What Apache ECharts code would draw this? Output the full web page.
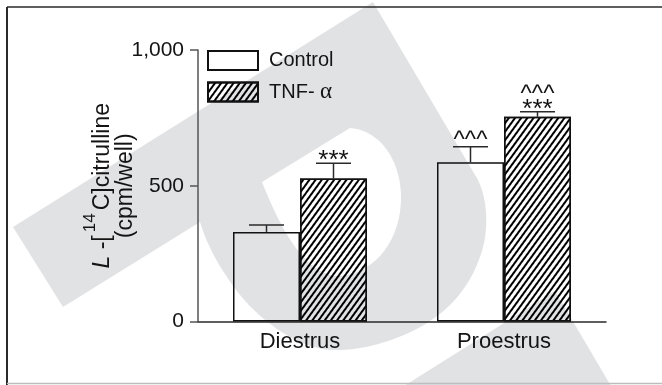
<!DOCTYPE html>
<html>
<head>
<meta charset="utf-8">
<script src="https://cdn.jsdelivr.net/npm/echarts@6/dist/echarts.min.js"></script>
<style>
  html, body { margin: 0; padding: 0; background: #fff; }
  #chart { width: 662px; height: 385px; }
</style>
</head>
<body>
<div id="chart"></div>
<script>
// Citrulline production per well, by cycle stage and treatment
const categories = ['Diestrus', 'Proestrus'];
const controlValues = [330, 587];
const controlErrors = [25, 57];
const tnfValues = [527, 754];
const tnfErrors = [56, 19];
// significance marks drawn above the error bars
const controlCarets = ['', '^^^'];
const tnfStars = ['***', '***'];
const tnfCarets = ['', '^^^'];
const yTicks = [0, 500, 1000];
const seriesNames = ['Control', 'TNF- α'];

const FONT = '"Liberation Sans", Arial, Helvetica, sans-serif';
const INK = '#141414';
const BAR_W = 67;
const CAP_HALF = 17.5;

const chart = echarts.init(document.getElementById('chart'));

// thin "/" hatching for the TNF bars
const hatch = {
  symbol: 'rect',
  symbolSize: 1,
  color: '#000',
  dashArrayX: [1, 0],
  dashArrayY: [1.1, 3],
  rotation: -Math.PI * 54 / 180
};

// turns a start point plus line / cubic segments into polygon points
function outline(start, segments) {
  const pts = [start.slice()];
  let p = start.slice();
  segments.forEach(seg => {
    if (seg.length === 2) {
      p = seg.slice();
      pts.push(p);
    } else {
      const [x1, y1, x2, y2, x3, y3] = seg;
      for (let k = 1; k <= 16; k++) {
        const t = k / 16, u = 1 - t;
        pts.push([
          u * u * u * p[0] + 3 * u * u * t * x1 + 3 * u * t * t * x2 + t * t * t * x3,
          u * u * u * p[1] + 3 * u * u * t * y1 + 3 * u * t * t * y2 + t * t * t * y3
        ]);
      }
      p = [x3, y3];
    }
  });
  return pts;
}

const logoOuter = outline([13, 227], [
  [373, 2], [478, 180],
  [488, 200, 490, 235, 478, 262],
  [466, 294, 440, 320, 404, 335],
  [380, 345, 355, 351, 331, 350],
  [300, 348, 265, 325, 240, 295],
  [222, 272, 208, 248, 200, 222],
  [63, 307]
]);
const logoCounter = outline([262, 182], [
  [350, 128],
  [380, 130, 400, 160, 401, 195],
  [402, 240, 375, 272, 342, 276],
  [310, 278, 285, 240, 262, 182]
]);

// upper error bar with cap plus the marks stacked above it
function errorLayer(id, values, errors, side, stars, carets) {
  return {
    type: 'custom',
    id: id,
    silent: true,
    z: 5,
    data: values.map((v, i) => [i, v, v + errors[i]]),
    renderItem(params, api) {
      const i = api.value(0);
      const base = api.coord([i, api.value(1)]);
      const tip = api.coord([i, api.value(2)]);
      const x = base[0] + side * BAR_W / 2;
      const line = { stroke: '#2a2a2a', lineWidth: 1.5 };
      const children = [
        { type: 'line', shape: { x1: x, y1: base[1], x2: x, y2: tip[1] }, style: line },
        { type: 'line', shape: { x1: x - CAP_HALF, y1: tip[1], x2: x + CAP_HALF, y2: tip[1] }, style: line }
      ];
      const s = stars[params.dataIndex];
      const c = carets[params.dataIndex];
      let caretY = tip[1] - 6;
      if (s) {
        children.push({ type: 'text', style: { text: s, x: x, y: tip[1] - 2, align: 'center', verticalAlign: 'middle', font: '26px ' + FONT, fill: INK } });
        caretY = tip[1] - 17;
      }
      if (c) {
        children.push({ type: 'text', style: { text: c, x: x, y: caretY, align: 'center', verticalAlign: 'middle', font: '24px ' + FONT, fill: INK } });
      }
      return { type: 'group', children: children };
    }
  };
}

const option = {
  animation: false,
  backgroundColor: '#fff',
  textStyle: { fontFamily: FONT, color: INK },
  grid: { left: 198, right: 56, top: 50, bottom: 63.5 },
  legend: {
    data: seriesNames,
    orient: 'vertical',
    left: 207,
    top: 50,
    padding: 0,
    itemWidth: 50,
    itemHeight: 19,
    itemGap: 9.5,
    icon: 'rect',
    selectedMode: false,
    formatter: n => n === 'TNF- α' ? 'TNF- {a|α}' : n,
    textStyle: {
      fontSize: 20, lineHeight: 19, color: INK, fontFamily: FONT,
      padding: [0, 0, 0, 6],
      rich: { a: { fontFamily: '"Liberation Serif", "DejaVu Serif", serif', fontSize: 23, lineHeight: 19 } }
    }
  },
  xAxis: {
    type: 'category',
    data: categories,
    axisLine: { lineStyle: { color: '#2a2a2a', width: 1.5 } },
    axisTick: { show: false },
    axisLabel: { fontSize: 22, color: INK, margin: 9, fontFamily: FONT }
  },
  yAxis: {
    type: 'value',
    min: yTicks[0],
    max: yTicks[yTicks.length - 1],
    interval: yTicks[1] - yTicks[0],
    splitLine: { show: false },
    axisLine: { show: true, lineStyle: { color: '#555', width: 1.5 } },
    axisTick: { show: true, length: 8, lineStyle: { color: '#555', width: 1.5 } },
    axisLabel: {
      fontSize: 21, color: INK, margin: 14, fontFamily: FONT,
      formatter: v => v.toLocaleString('en-US')
    },
    name: '{it|L} -[{sup|14}C]citrulline\n(cpm/well)',
    nameLocation: 'middle',
    nameRotate: 90,
    nameGap: 61,
    nameMoveOverlap: false,
    nameTextStyle: {
      fontSize: 23, lineHeight: 23, color: INK, fontFamily: FONT,
      rich: {
        it: { fontStyle: 'italic', fontSize: 23, lineHeight: 23 },
        sup: { fontSize: 17, lineHeight: 1, padding: [0, 3, 24, 3] }
      }
    }
  },
  graphic: [
    // light grey background logo
    { type: 'polygon', z: -10, silent: true, shape: { points: logoOuter }, style: { fill: '#e1e2e4' } },
    { type: 'polygon', z: -9, silent: true, shape: { points: logoCounter }, style: { fill: '#fff' } },
    { type: 'polygon', z: -10, silent: true, shape: { points: [[404, 386], [555, 291], [611, 386]] }, style: { fill: '#e1e2e4' } },
    // frame
    { type: 'line', z: 50, silent: true, shape: { x1: 7, y1: 7, x2: 662, y2: 7 }, style: { stroke: '#2a2a2a', lineWidth: 1.5 } },
    { type: 'line', z: 50, silent: true, shape: { x1: 7, y1: 7, x2: 7, y2: 385 }, style: { stroke: '#2a2a2a', lineWidth: 2 } },
    { type: 'line', z: 50, silent: true, shape: { x1: 7, y1: 383.5, x2: 662, y2: 383.5 }, style: { stroke: '#bdbdbd', lineWidth: 1.5 } }
  ],
  series: [
    {
      name: seriesNames[0],
      type: 'bar',
      data: controlValues,
      barWidth: BAR_W,
      barGap: '0%',
      itemStyle: { color: 'rgba(255,255,255,0)', borderColor: '#111', borderWidth: 1.5 }
    },
    {
      name: seriesNames[1],
      type: 'bar',
      data: tnfValues,
      barWidth: BAR_W,
      barGap: '0%',
      itemStyle: { color: 'rgba(255,255,255,0)', borderColor: '#111', borderWidth: 1.5, decal: hatch }
    },
    errorLayer('controlErr', controlValues, controlErrors, -1, ['', ''], controlCarets),
    errorLayer('tnfErr', tnfValues, tnfErrors, 1, tnfStars, tnfCarets)
  ]
};

chart.setOption(option);
</script>
</body>
</html>
